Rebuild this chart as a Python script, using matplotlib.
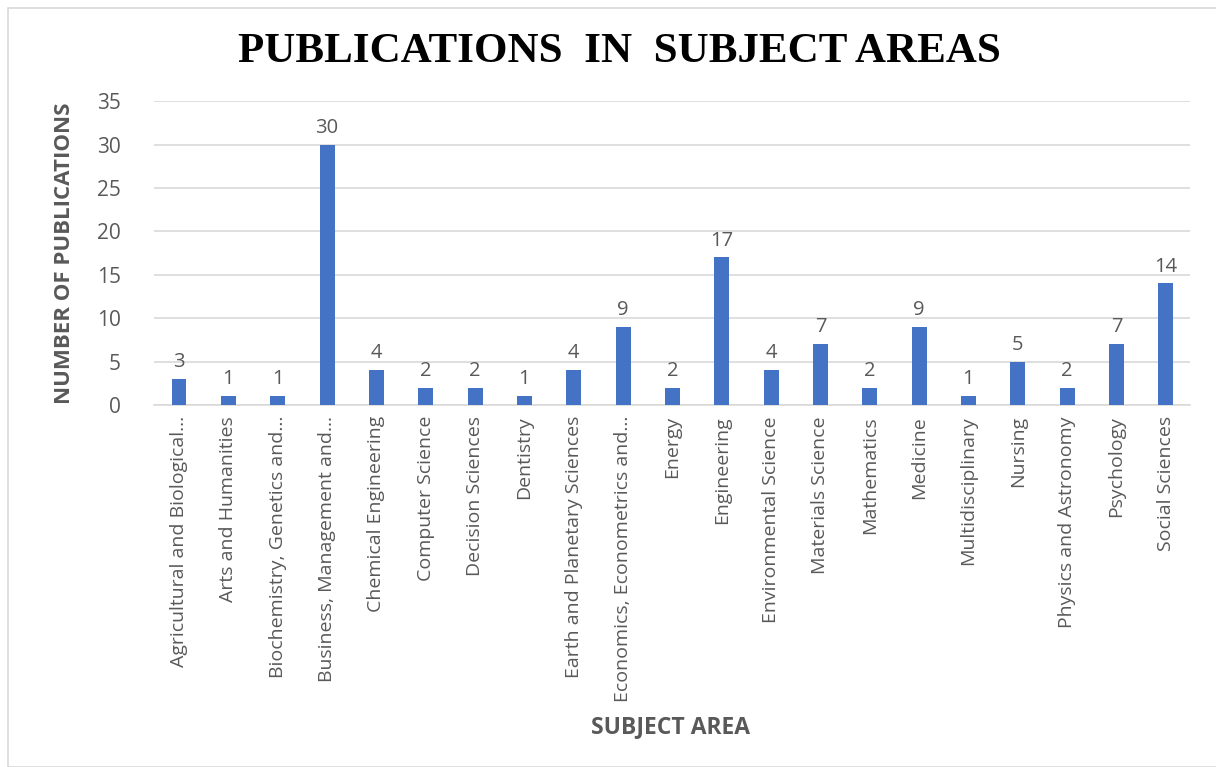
import matplotlib.pyplot as plt
from matplotlib.patches import Rectangle
import numpy as np

subjects = [
    "Agricultural and Biological...", "Arts and Humanities",
    "Biochemistry, Genetics and...", "Business, Management and...",
    "Chemical Engineering", "Computer Science", "Decision Sciences",
    "Dentistry", "Earth and Planetary Sciences", "Economics, Econometrics and...",
    "Energy", "Engineering", "Environmental Science", "Materials Science",
    "Mathematics", "Medicine", "Multidisciplinary", "Nursing",
    "Physics and Astronomy", "Psychology", "Social Sciences",
]
counts = [3, 1, 1, 30, 4, 2, 2, 1, 4, 9, 2, 17, 4, 7, 2, 9, 1, 5, 2, 7, 14]
yticks = [0, 5, 10, 15, 20, 25, 30, 35]

gray = "#595959"
sans = ["Open Sans", "DejaVu Sans"]

fig = plt.figure(figsize=(12.16, 7.67), dpi=100)
fig.patches.append(Rectangle((8 / 1216, 0.0), 1.0, 1 - 8 / 767, transform=fig.transFigure,
                             fill=False, edgecolor="#d9d9d9", linewidth=1.2))
ax = fig.add_axes([0.127, 0.472, 0.852, 0.396])

x = np.arange(len(subjects))
bars = ax.bar(x, counts, width=0.3, color="#4472C4", zorder=3)
for xi, v in zip(x, counts):
    ax.text(xi, v + 0.8, str(v), ha="center", va="bottom", fontsize=14.5,
            color=gray, family=sans)

ax.set_xlim(-0.5, len(subjects) - 0.5)
ax.set_ylim(0, 35)
ax.set_yticks(yticks)
ax.set_xticks(x)
ax.set_xticklabels(subjects, rotation=90, fontsize=14, color=gray, family=sans)
for lbl in ax.get_yticklabels():
    lbl.set_fontsize(15)
    lbl.set_color(gray)
    lbl.set_family(sans)
ax.tick_params(axis="x", length=0, pad=8)
ax.tick_params(axis="y", length=0, pad=24)
ax.grid(axis="y", color="#d9d9d9", linewidth=1.2, zorder=0)
for s in ["top", "right", "left"]:
    ax.spines[s].set_visible(False)
ax.spines["bottom"].set_color("#d9d9d9")
ax.spines["bottom"].set_linewidth(1.2)

ax.set_ylabel("NUMBER OF PUBLICATIONS", fontsize=16, fontweight="bold",
              color=gray, family=sans, labelpad=16)
fig.text(0.551, 0.052, "SUBJECT AREA", ha="center", va="center", fontsize=16.5,
         fontweight="bold", color=gray, family=sans)
fig.text(0.509, 0.932, "PUBLICATIONS  IN  SUBJECT AREAS", ha="center", va="center",
         fontsize=31, fontweight="bold", family=["Liberation Serif", "DejaVu Serif"])

fig.savefig("out.png", dpi=100, facecolor="white")
